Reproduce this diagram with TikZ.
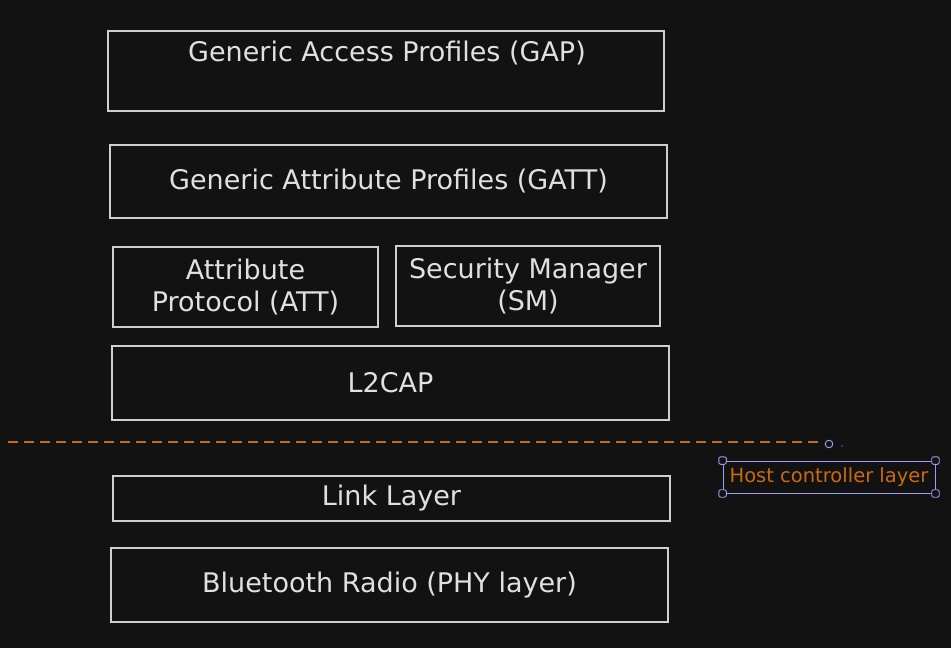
\documentclass[tikz,border=0pt]{standalone}
\usepackage{fontspec}
\setmainfont{DejaVu Sans}
\usetikzlibrary{positioning}
\definecolor{bgdark}{HTML}{121212}
\definecolor{strokegray}{HTML}{CFCFCF}
\definecolor{textgray}{HTML}{E0E0E0}
\definecolor{hostorange}{HTML}{C96A10}
\definecolor{selpurple}{HTML}{9E9EF0}
\tikzset{
  layer/.style={draw=strokegray,line width=1.1pt,inner sep=0pt},
  layertext/.style={text=textgray,align=center,
    font=\fontsize{27}{32}\selectfont},
  handle/.style={draw=selpurple,fill=bgdark,line width=.9pt,
    minimum size=7.5pt,inner sep=0pt,rounded corners=2pt},
}

\begin{document}
\begin{tikzpicture}[x=1pt,y=-1pt]

\fill[bgdark] (0,0) rectangle (951,648);
\useasboundingbox (0,0) rectangle (951,648);

% Host layers
\node[layer,minimum width=556pt,minimum height=80pt] (gap) at (386,71) {};
\node[layertext] (gaptext) at (387,53) {Generic Access Profiles (GAP)};
\node[layer,layertext,minimum width=557pt,minimum height=73pt] (gatt)
  at (388.5,181.5) {Generic Attribute Profiles (GATT)};
\node[layer,layertext,minimum width=265pt,minimum height=80pt] (att)
  at (245.5,287) {Attribute\\Protocol (ATT)};
\node[layer,layertext,minimum width=264pt,minimum height=80pt] (sm)
  at (528,286) {Security Manager\\(SM)};
\node[layer,layertext,minimum width=557pt,minimum height=74pt] (l2cap)
  at (390.5,383) {L2CAP};

% Host / controller boundary
\coordinate (dashL) at (8,442);
\coordinate (dashR) at (820,442);
\draw[hostorange,line width=1.3pt,dash pattern=on 10pt off 6pt]
  (dashL) -- (dashR);
\draw[selpurple,line width=.9pt] (829,444) circle (3.8pt);
\fill[selpurple!60!bgdark] (842,446) circle (.8pt);

\node[draw=selpurple,line width=.9pt,minimum width=212pt,minimum height=32pt,
  inner sep=0pt,text=hostorange,font=\fontsize{19.5}{22}\selectfont]
  (host) at (829,477) {Host controller layer};
\foreach \c/\n in {north west/nw,north east/ne,south west/sw,south east/se}
  \node[handle] (host\n) at (host.\c) {};

% Controller layers
\node[layer,layertext,minimum width=557pt,minimum height=45pt] (link)
  at (391.5,498.5) {Link Layer};
\node[layer,layertext,minimum width=557pt,minimum height=74pt] (radio)
  at (389.5,585) {Bluetooth Radio (PHY layer)};

\end{tikzpicture}
\end{document}
